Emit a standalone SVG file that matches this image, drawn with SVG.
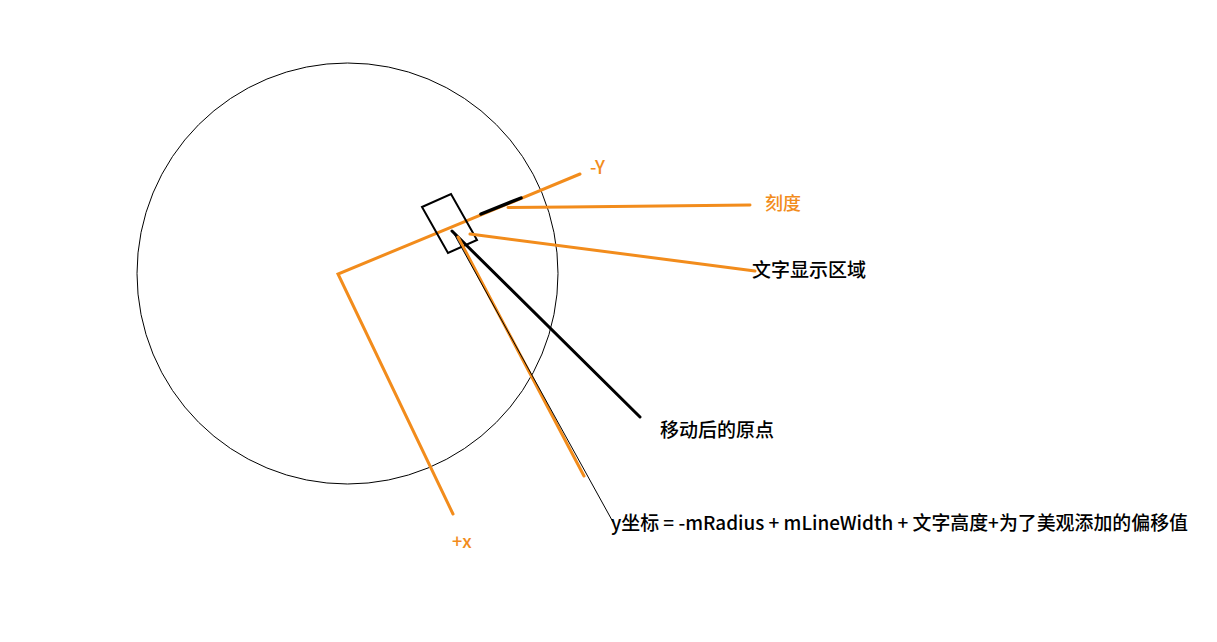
<svg xmlns="http://www.w3.org/2000/svg" width="1217" height="642" viewBox="0 0 1217 642">
<style>
.o{stroke:#F28C1C;stroke-width:3;fill:none;stroke-linecap:round}
.k{stroke:#000;fill:none;stroke-linecap:round}
.t{font-family:"Noto Sans CJK SC","Liberation Sans",sans-serif;font-size:19px;font-weight:500;fill:#000}
.to{font-family:"Noto Sans CJK SC","Liberation Sans",sans-serif;font-size:18px;font-weight:500;fill:#F28C1C}
</style>
<rect width="1217" height="642" fill="#fff"/>
<g id="circle"><circle cx="347.5" cy="273.5" r="210.5" fill="none" stroke="#000" stroke-width="1"/></g>
<g id="axes">
<polyline class="o" points="580,174 338,274 453,514"/>
<text class="to" x="590" y="174">-Y</text>
<text class="to" x="452" y="548">+x</text>
</g>
<g id="text-box"><polygon points="422,207 451,194 477,240 448,253" fill="none" stroke="#000" stroke-width="2"/></g>
<g id="connectors">
<line class="k" x1="481" y1="214" x2="521" y2="198" stroke-width="3.5"/>
<polyline class="o" points="508,207.5 568,207 750,205"/>
<line class="o" x1="470" y1="234" x2="755" y2="271"/>
<line class="k" x1="452" y1="231" x2="640" y2="417" stroke-width="3"/>
<line class="o" x1="458" y1="237" x2="584" y2="476"/>
<line class="k" x1="453" y1="232" x2="613" y2="522" stroke-width="1"/>
</g>
<g id="labels">
<text class="to" x="765" y="210" font-size="18.5">刻度</text>
<text class="t" x="752" y="277">文字显示区域</text>
<text class="t" x="660" y="437">移动后的原点</text>
<text class="t" x="611" y="530" font-size="18" textLength="577" lengthAdjust="spacingAndGlyphs">y坐标 = -mRadius + mLineWidth + 文字高度+为了美观添加的偏移值</text>
</g>
</svg>
